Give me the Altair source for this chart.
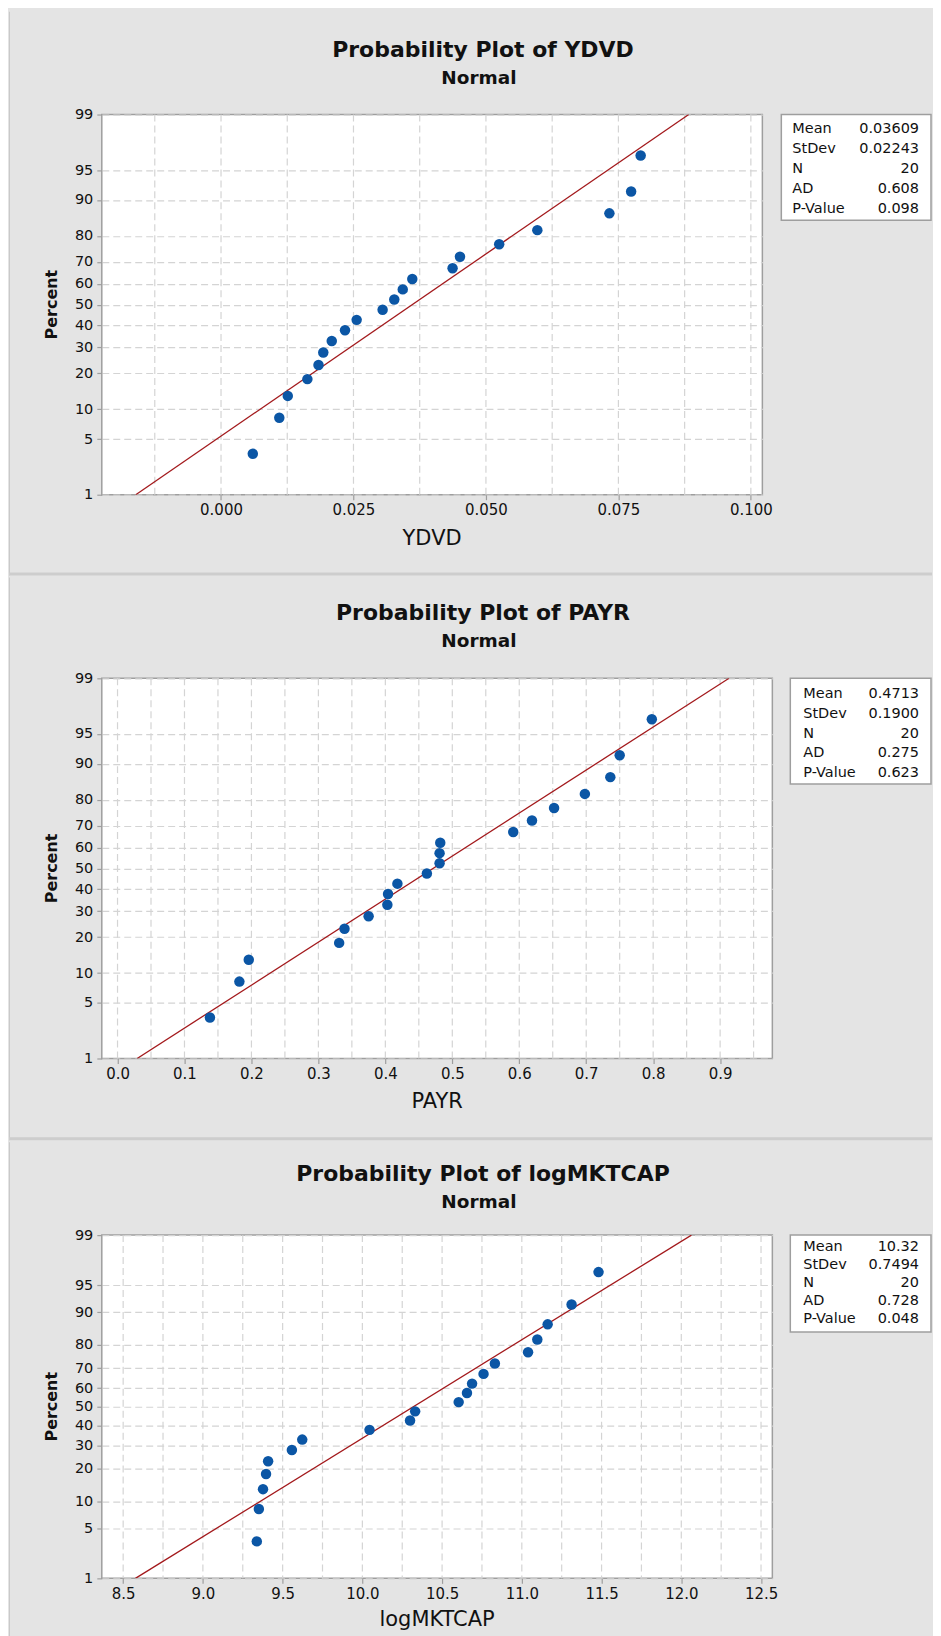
import altair as alt
import pandas as pd
from statistics import NormalDist

# ---------------- data ----------------
PCT = [3.4, 8.3, 13.2, 18.1, 23.0, 27.9, 32.8, 37.7, 42.6, 47.5,
       52.5, 57.4, 62.3, 67.2, 72.1, 77.0, 81.9, 86.8, 91.7, 96.6]

YDVD = [0.0060, 0.0110, 0.0126, 0.0163, 0.0184, 0.0193, 0.0209, 0.0234, 0.0256, 0.0305,
        0.0327, 0.0343, 0.0361, 0.0437, 0.0451, 0.0525, 0.0597, 0.0733, 0.0774, 0.0792]
PAYR = [0.138, 0.182, 0.196, 0.331, 0.339, 0.375, 0.403, 0.404, 0.418, 0.462,
        0.481, 0.481, 0.482, 0.591, 0.619, 0.652, 0.698, 0.736, 0.750, 0.798]
LOGMKTCAP = [9.338, 9.351, 9.377, 9.396, 9.409, 9.558, 9.623, 10.045, 10.299, 10.331,
             10.604, 10.656, 10.688, 10.760, 10.831, 11.039, 11.097, 11.162, 11.312, 11.481]

STAT_NAMES = ["Mean", "StDev", "N", "AD", "P-Value"]
YDVD_STATS = ["0.03609", "0.02243", "20", "0.608", "0.098"]
PAYR_STATS = ["0.4713", "0.1900", "20", "0.275", "0.623"]
LOGMKTCAP_STATS = ["10.32", "0.7494", "20", "0.728", "0.048"]

YDVD_MEAN, YDVD_SD = 0.03609, 0.02243
PAYR_MEAN, PAYR_SD = 0.4713, 0.1900
LOGMKTCAP_MEAN, LOGMKTCAP_SD = 10.32, 0.7494

Y_TICKS = [1, 5, 10, 20, 30, 40, 50, 60, 70, 80, 90, 95, 99]

YDVD_TICKS = [0.0, 0.025, 0.05, 0.075, 0.1]
YDVD_GRID = [-0.0125, 0.0, 0.0125, 0.025, 0.0375, 0.05, 0.0625, 0.075, 0.0875, 0.1]
PAYR_TICKS = [0.0, 0.1, 0.2, 0.3, 0.4, 0.5, 0.6, 0.7, 0.8, 0.9]
PAYR_GRID = [0.0, 0.05, 0.1, 0.15, 0.2, 0.25, 0.3, 0.35, 0.4, 0.45, 0.5,
             0.55, 0.6, 0.65, 0.7, 0.75, 0.8, 0.85, 0.9, 0.95]
LOGMKTCAP_TICKS = [8.5, 9.0, 9.5, 10.0, 10.5, 11.0, 11.5, 12.0, 12.5]
LOGMKTCAP_GRID = [8.5, 8.75, 9.0, 9.25, 9.5, 9.75, 10.0, 10.25, 10.5, 10.75,
                  11.0, 11.25, 11.5, 11.75, 12.0, 12.25, 12.5]

FIT_PCT = [1, 99]

# ---------------- style ----------------
FONT = "DejaVu Sans"
BG = "#e4e4e4"
SEP = "#cdcdcd"
GRID = "#d4d4d4"
AXISC = "#9e9e9e"
TXT = "#111111"
PT = "#0b56a5"
LINE = "#a3191c"

nd = NormalDist()
ZLO, ZHI = nd.inv_cdf(0.01), nd.inv_cdf(0.99)
Y_TICK_Z = [nd.inv_cdf(p / 100) for p in Y_TICKS]


def text_layer(one, txt, x, y, size, weight="normal", align="center", angle=0):
    kw = dict(font=FONT, fontSize=size, fontWeight=weight, color=TXT,
              align=align, baseline="middle")
    if angle:
        kw["angle"] = angle
    return alt.Chart(one).mark_text(**kw).encode(
        x=alt.value(x), y=alt.value(y), text=alt.value(txt))


def panel(cfg):
    W, H = cfg["W"], cfg["H"]
    one = pd.DataFrame({"k": [0]})
    xs = alt.Scale(domain=cfg["domain"], nice=False, zero=False)
    ys = alt.Scale(domain=[ZLO, ZHI], nice=False, zero=False)
    xaxis = alt.Axis(values=cfg["ticks"], format=cfg["fmt"], title=None, grid=False,
                     domain=False, tickSize=5, tickColor=AXISC, tickWidth=1.2,
                     labelFont=FONT, labelFontSize=15, labelColor=TXT, labelPadding=3,
                     labelFlush=False, labelOverlap=False)
    yaxis = alt.Axis(values=Y_TICK_Z,
                     labelExpr="format(cumulativeNormal(datum.value) * 100, '.0f')",
                     title=None, grid=True, gridDash=[7, 4], gridColor=GRID, gridWidth=1.2,
                     domain=False, tickSize=5, tickColor=AXISC, tickWidth=1.2,
                     labelFont=FONT, labelFontSize=14.5, labelColor=TXT, labelPadding=4,
                     labelFlush=False, labelOverlap=False)

    layers = []
    # invisible frame that fixes the panel extent
    layers.append(alt.Chart(one).mark_rect(opacity=0).encode(
        x=alt.value(cfg["bx1"]), x2=alt.value(cfg["bx2"]),
        y=alt.value(cfg["by1"]), y2=alt.value(cfg["by2"])))
    # left border line
    layers.append(alt.Chart(one).mark_rect(color="#c9c9c9").encode(
        x=alt.value(cfg["bx1"]), x2=alt.value(cfg["bx1"] + 1),
        y=alt.value(cfg["by1"]), y2=alt.value(cfg["by2"])))
    if cfg["sep"]:
        layers.append(alt.Chart(one).mark_rect(color=SEP).encode(
            x=alt.value(cfg["bx1"]), x2=alt.value(cfg["bx2"]),
            y=alt.value(cfg["by2"] - 3), y2=alt.value(cfg["by2"])))

    # vertical dashed grid lines
    gdf = pd.DataFrame({"g": cfg["grid"]})
    layers.append(alt.Chart(gdf).mark_rule(strokeDash=[7, 4], color=GRID, strokeWidth=1.2).encode(
        x=alt.X("g:Q", scale=xs, axis=xaxis), y=alt.value(0), y2=alt.value(H)))

    # fitted normal line
    fdf = pd.DataFrame({"pct": FIT_PCT})
    layers.append(alt.Chart(fdf).transform_calculate(
        z="quantileNormal(datum.pct / 100)",
        xv=f"{cfg['mean']} + {cfg['sd']} * quantileNormal(datum.pct / 100)"
    ).mark_line(color=LINE, strokeWidth=1.3, clip=True).encode(
        x=alt.X("xv:Q", scale=xs, axis=xaxis), y=alt.Y("z:Q", scale=ys, axis=yaxis)))

    # points
    pdf = pd.DataFrame({"v": cfg["values"], "pct": PCT})
    layers.append(alt.Chart(pdf).transform_calculate(
        z="quantileNormal(datum.pct / 100)"
    ).mark_circle(size=110, color=PT, opacity=1).encode(
        x=alt.X("v:Q", scale=xs, axis=xaxis), y=alt.Y("z:Q", scale=ys, axis=yaxis)))

    # titles
    layers.append(text_layer(one, cfg["title"], cfg["tx"], cfg["ty"], 22, "bold"))
    layers.append(text_layer(one, "Normal", cfg["sx"], cfg["sy"], 18.5, "bold"))
    layers.append(text_layer(one, "Percent", -50, H / 2, 16, "bold", angle=270))
    layers.append(text_layer(one, cfg["name"], W / 2, H + cfg["xty"], 21))

    # stats box
    bx = cfg["box"]
    layers.append(alt.Chart(one).mark_rect(fill="white", stroke=AXISC, strokeWidth=1.5).encode(
        x=alt.value(bx[0]), x2=alt.value(bx[1]), y=alt.value(bx[2]), y2=alt.value(bx[3])))
    for i, (nm, val) in enumerate(zip(STAT_NAMES, cfg["stats"])):
        ry = cfg["r0"] + i * cfg["lh"]
        layers.append(text_layer(one, nm, cfg["lx"], ry, 14.5, align="left"))
        layers.append(text_layer(one, val, cfg["vx"], ry, 14.5, align="right"))

    return alt.layer(*layers).properties(width=W, height=H)


P1 = dict(name="YDVD", title="Probability Plot of YDVD", values=YDVD, stats=YDVD_STATS,
          mean=YDVD_MEAN, sd=YDVD_SD, ticks=YDVD_TICKS, grid=YDVD_GRID, fmt=".3f",
          domain=[-0.0225, 0.10217], W=662, H=381,
          bx1=-93, bx2=832, by1=-103, by2=462, sep=True,
          tx=382, ty=-65, sx=378, sy=-37, xty=44,
          box=[681, 831, 0, 106], lx=692, vx=819, r0=15, lh=20)
P2 = dict(name="PAYR", title="Probability Plot of PAYR", values=PAYR, stats=PAYR_STATS,
          mean=PAYR_MEAN, sd=PAYR_SD, ticks=PAYR_TICKS, grid=PAYR_GRID, fmt=".1f",
          domain=[-0.0235, 0.978], W=672, H=381,
          bx1=-93, bx2=832, by1=-101, by2=463, sep=True,
          tx=382, ty=-65, sx=378, sy=-37, xty=44,
          box=[690, 831, 0, 106], lx=703, vx=819, r0=16, lh=19.75)
P3 = dict(name="logMKTCAP", title="Probability Plot of logMKTCAP", values=LOGMKTCAP,
          stats=LOGMKTCAP_STATS, mean=LOGMKTCAP_MEAN, sd=LOGMKTCAP_SD,
          ticks=LOGMKTCAP_TICKS, grid=LOGMKTCAP_GRID, fmt=".1f",
          domain=[8.366, 12.571], W=672, H=344,
          bx1=-93, bx2=832, by1=-93, by2=405, sep=False,
          tx=382, ty=-61, sx=378, sy=-33, xty=42,
          box=[690, 831, 0, 97], lx=703, vx=819, r0=12, lh=18)

chart = alt.vconcat(panel(P1), panel(P2), panel(P3), spacing=0).properties(
    background=BG, padding={"left": 0, "top": 1, "right": 0, "bottom": 0}
).configure_view(fill="white", stroke=AXISC, strokeWidth=1.5)

chart.save("out.html", embed_options={"renderer": "svg", "actions": False})
